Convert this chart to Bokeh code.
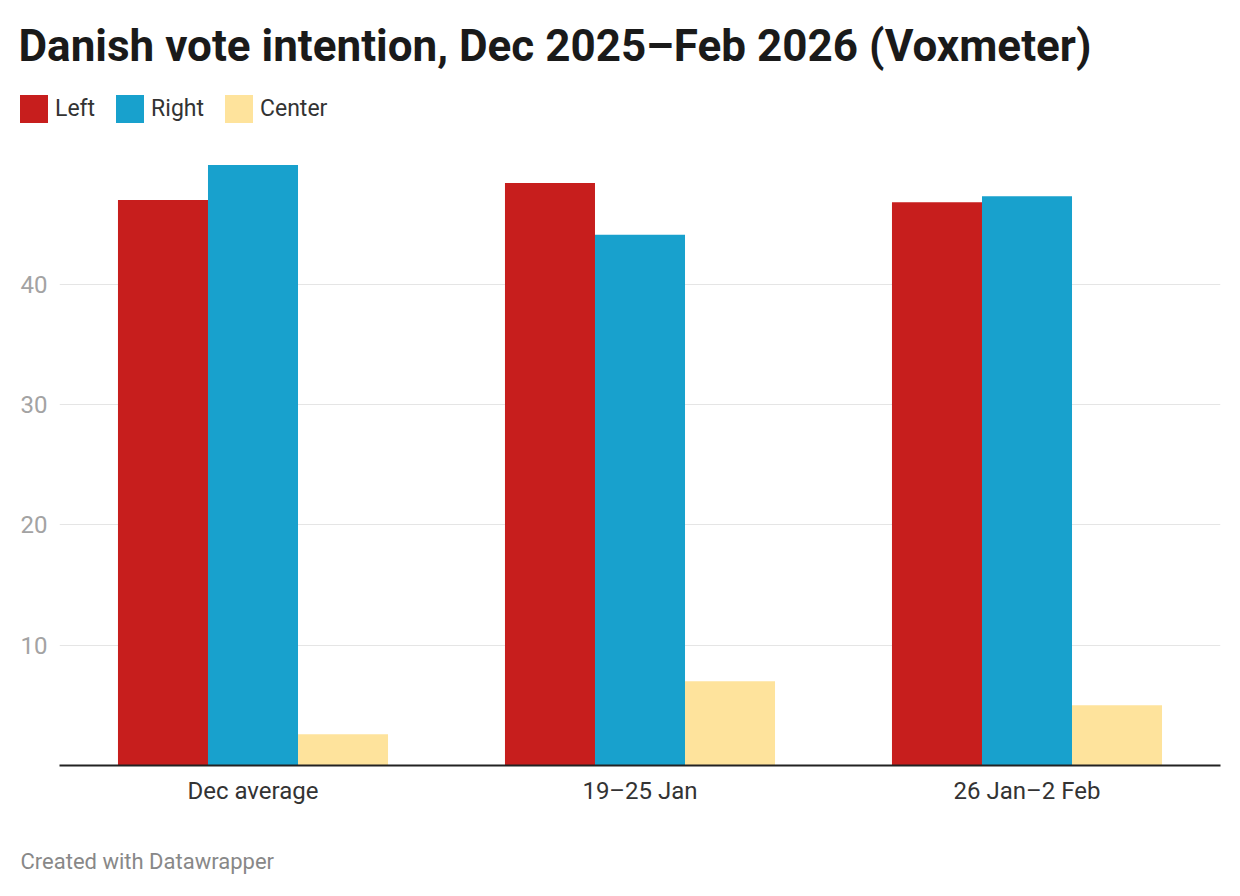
from bokeh.plotting import figure
from bokeh.layouts import column
from bokeh.models import FactorRange, Range1d, FixedTicker, Legend, LegendItem, ColumnDataSource
from bokeh.transform import dodge
from bokeh.embed import file_html
from bokeh.resources import INLINE

categories = ["Dec average", "19–25 Jan", "26 Jan–2 Feb"]
series_names = ["Left", "Right", "Center"]
left_values = [47.0, 48.4, 46.8]
right_values = [49.9, 44.1, 47.3]
center_values = [2.6, 7.0, 5.0]
y_ticks = [10, 20, 30, 40]
colors = ["#c71e1d", "#18a1cd", "#fee39c"]
title_text = "Danish vote intention, Dec 2025–Feb 2026 (Voxmeter)"
footer_text = "Created with Datawrapper"

FONT = "Roboto"
W = 1224

source = ColumnDataSource(dict(cat=categories, Left=left_values, Right=right_values, Center=center_values))

# ---------- header: title + legend ----------
head = figure(width=W, height=132, x_axis_type=None, y_axis_type=None,
              x_range=FactorRange(*categories), y_range=Range1d(1000, 1001),
              output_backend="svg", toolbar_location=None,
              min_border_left=0, min_border_right=0, min_border_top=84, min_border_bottom=0)
head.frame_align = False
head.outline_line_color = None
head.xgrid.visible = False
head.ygrid.visible = False
head.title.text = title_text
head.title.text_font = FONT
head.title.text_font_size = "44px"
head.title.text_font_style = "bold"
head.title.text_color = "#1a1a1a"
head.title.align = "left"
head.title.offset = 18
head.title.standoff = 26

proxies = []
for name, col in zip(series_names, colors):
    # legend swatches only: zero-width bars outside this strip's range
    r = head.vbar(x="cat", top=name, width=0, source=source, fill_color=col, line_color=None)
    proxies.append(r)

legend = Legend(items=[LegendItem(label=n, renderers=[r]) for n, r in zip(series_names, proxies)],
                orientation="horizontal", location=(16, 6))
legend.glyph_width = 35
legend.glyph_height = 35
legend.label_standoff = 4
legend.spacing = 17
legend.padding = 0
legend.margin = 0
legend.border_line_color = None
legend.background_fill_alpha = 0
legend.label_text_font = FONT
legend.label_text_font_size = "23px"
legend.label_text_color = "#333333"
legend.label_text_baseline = "middle"
head.add_layout(legend, "center")

# ---------- main chart ----------
p = figure(
    width=W, height=681,
    x_range=FactorRange(*categories, range_padding=0),
    y_range=Range1d(0, 52.6),
    output_backend="svg", toolbar_location=None,
    min_border_left=59, min_border_right=4, min_border_top=0, min_border_bottom=48,
)
p.frame_align = False
p.outline_line_color = None
p.background_fill_color = "white"
p.border_fill_color = "white"

bw = 0.2326
offsets = [-bw, 0, bw]
for name, off, col in zip(series_names, offsets, colors):
    p.vbar(x=dodge("cat", off, range=p.x_range), top=name, width=bw, bottom=0,
           source=source, fill_color=col, line_color=None)

p.xaxis.axis_line_color = "#222222"
p.xaxis.axis_line_width = 2
p.xaxis.major_tick_line_color = None
p.xaxis.minor_tick_line_color = None
p.xaxis.major_tick_out = 0
p.xaxis.major_tick_in = 0
p.xaxis.major_label_text_font = FONT
p.xaxis.major_label_text_font_size = "24px"
p.xaxis.major_label_text_color = "#333333"
p.xaxis.major_label_standoff = 11

p.yaxis.ticker = FixedTicker(ticks=y_ticks)
p.yaxis.axis_line_color = None
p.yaxis.major_tick_line_color = None
p.yaxis.minor_tick_line_color = None
p.yaxis.major_tick_out = 0
p.yaxis.major_tick_in = 0
p.yaxis.major_label_text_font = FONT
p.yaxis.major_label_text_font_size = "24px"
p.yaxis.major_label_text_color = "#a3a3a3"
p.yaxis.major_label_standoff = 12

p.xgrid.grid_line_color = None
p.ygrid.grid_line_color = "#e5e5e5"
p.ygrid.grid_line_width = 1

# ---------- footer ----------
foot = figure(width=W, height=67, x_axis_type=None, y_axis_type=None,
              output_backend="svg", toolbar_location=None,
              min_border_left=0, min_border_right=0, min_border_top=62, min_border_bottom=0)
foot.frame_align = False
foot.outline_line_color = None
foot.title.text = footer_text
foot.title.text_font = FONT
foot.title.text_font_size = "22px"
foot.title.text_font_style = "normal"
foot.title.text_color = "#888888"
foot.title.align = "left"
foot.title.offset = 20
foot.title.standoff = 4

layout = column(head, p, foot, spacing=0)
open("out.html", "w").write(file_html(layout, INLINE))
